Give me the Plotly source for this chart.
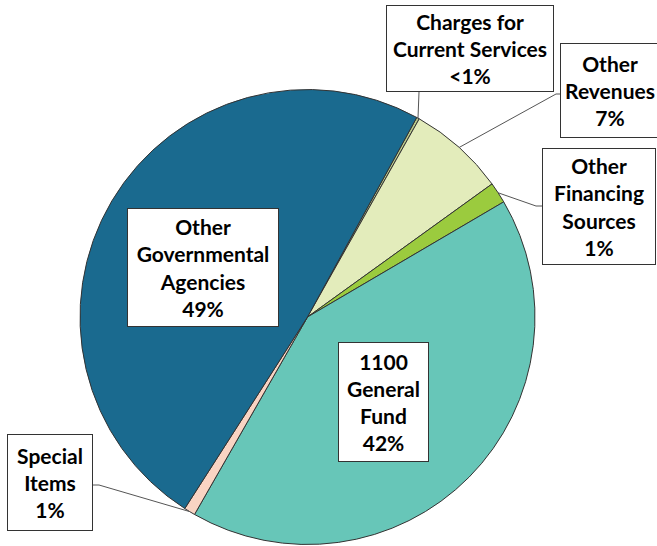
import math
import plotly.graph_objects as go

# ---- data ----
labels = ["Charges for Current Services", "Other Revenues", "Other Financing Sources",
          "1100 General Fund", "Special Items", "Other Governmental Agencies"]
values = [0.2, 6.9, 1.5, 41.8, 0.8, 49.0]
label_texts = ["Charges for<br>Current Services<br><1%", "Other<br>Revenues<br>7%",
               "Other<br>Financing<br>Sources<br>1%", "1100<br>General<br>Fund<br>42%",
               "Special<br>Items<br>1%", "Other<br>Governmental<br>Agencies<br>49%"]
colors = ["#B8C98A", "#E3ECBB", "#9BCB3E", "#67C6B8", "#F9D4C3", "#1A6A8F"]

# ---- layout constants (pixels) ----
W, H = 657, 546
CX, CY, R = 307.5, 317.0, 227.5
ROT = 28.7
# label boxes: (left, top, width, height)
boxes = [(386, 5, 168, 87), (560, 43, 100, 95), (542, 148, 114, 117),
         (338, 342, 91, 120), (7, 434, 86, 97), (127, 208, 152, 119)]
# leader line start points on box edges, optional elbow (None = no line)
leaders = [[(419, 92)], [(560, 94), (556, 94)], [(542, 206), (536, 206)],
           None, [(93, 485), (99, 485)], None]

def px(x):
    return x / W

def py(y):
    return 1 - y / H

fig = go.Figure(go.Pie(
    labels=labels, values=values, sort=False, direction="clockwise",
    rotation=ROT, textinfo="none", hoverinfo="label+percent",
    marker=dict(colors=colors, line=dict(color="#333333", width=1)),
    domain=dict(x=[px(CX - R), px(CX + R)], y=[py(CY + R), py(CY - R)]),
    showlegend=False,
))

total = sum(values)
cum = 0.0
shapes = []
annotations = []
for i, v in enumerate(values):
    mid = math.radians(ROT + (cum + v / 2) / total * 360)
    cum += v
    ex, ey = CX + R * math.sin(mid), CY - R * math.cos(mid)
    if leaders[i]:
        pts = leaders[i] + [(ex, ey)]
        path = "M " + " L ".join(f"{px(x)},{py(y)}" for x, y in pts)
        shapes.append(dict(type="path", path=path, xref="paper", yref="paper",
                           line=dict(color="#555555", width=1)))
    l, t, w, h = boxes[i]
    annotations.append(dict(
        x=px(l + w / 2), y=py(t + h / 2), xref="paper", yref="paper",
        xanchor="center", yanchor="middle", text=label_texts[i], showarrow=False,
        width=w - 2, height=h - 2, align="center", valign="middle",
        bgcolor="white", bordercolor="#333333", borderwidth=1, borderpad=0,
        font=dict(family="Lato", size=21, color="black", weight="bold"),
    ))

fig.update_layout(
    width=W, height=H, margin=dict(l=0, r=0, t=0, b=0),
    paper_bgcolor="white", plot_bgcolor="white",
    shapes=shapes, annotations=annotations,
)
fig.write_html("out.html", config={"displayModeBar": False},
               post_script="document.body.style.margin='0';")
